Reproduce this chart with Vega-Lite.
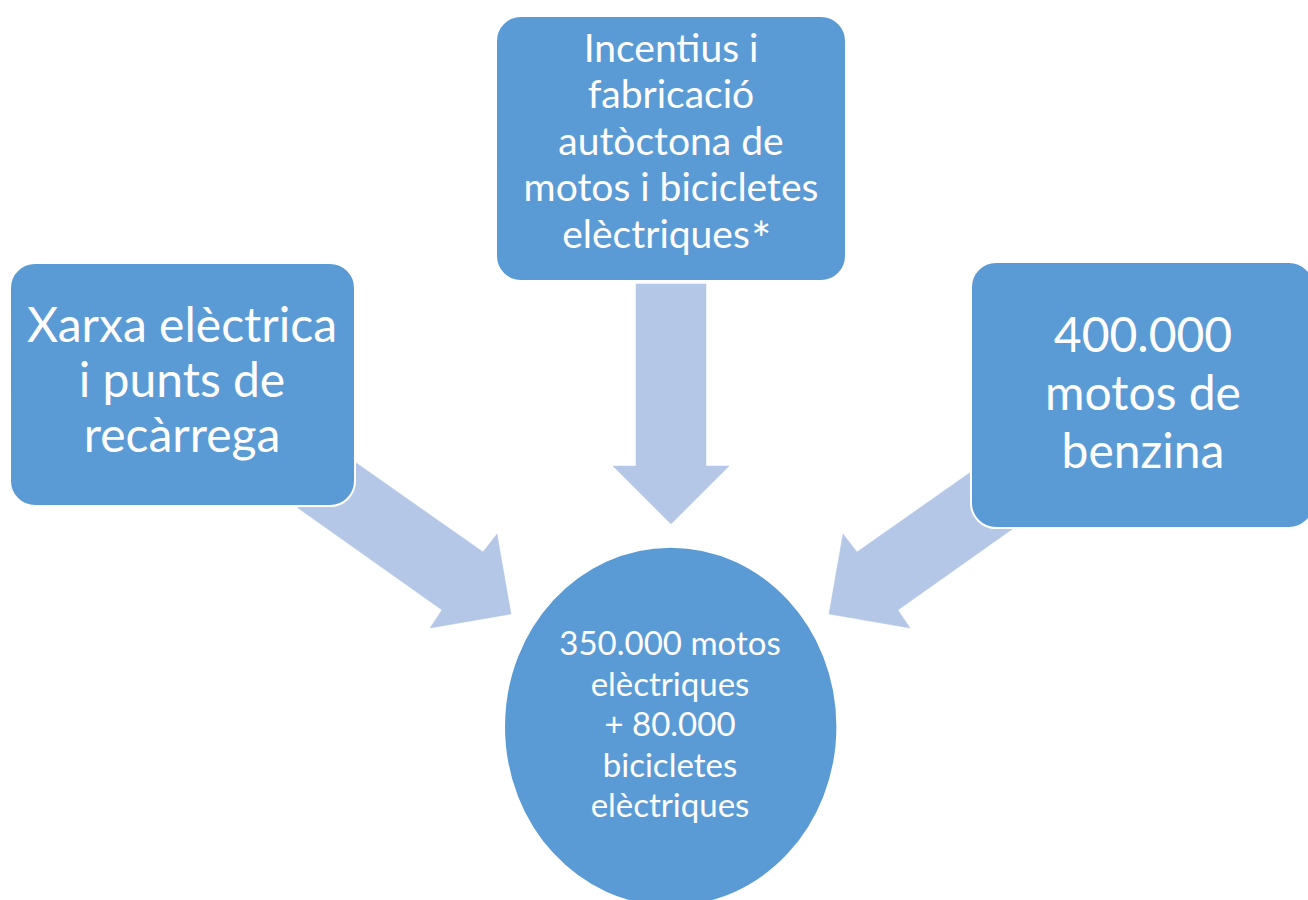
{
  "$schema": "https://vega.github.io/schema/vega-lite/v6.json",
  "width": 1308,
  "height": 900,
  "autosize": "none",
  "padding": 0,
  "background": "white",
  "config": {"view": {"stroke": null}},
  "datasets": {
    "arrows": [
      {"arrow": "top", "i": 1, "x": 636, "y": 284},
      {"arrow": "top", "i": 2, "x": 706, "y": 284},
      {"arrow": "top", "i": 3, "x": 706, "y": 466},
      {"arrow": "top", "i": 4, "x": 729, "y": 466},
      {"arrow": "top", "i": 5, "x": 671, "y": 524},
      {"arrow": "top", "i": 6, "x": 613, "y": 466},
      {"arrow": "top", "i": 7, "x": 636, "y": 466},
      {"arrow": "left", "i": 1, "x": 338.5, "y": 450.5},
      {"arrow": "left", "i": 2, "x": 483, "y": 552},
      {"arrow": "left", "i": 3, "x": 497, "y": 534},
      {"arrow": "left", "i": 4, "x": 511, "y": 614},
      {"arrow": "left", "i": 5, "x": 430, "y": 628},
      {"arrow": "left", "i": 6, "x": 442, "y": 610},
      {"arrow": "left", "i": 7, "x": 298, "y": 508},
      {"arrow": "right", "i": 1, "x": 1001.5, "y": 450.5},
      {"arrow": "right", "i": 2, "x": 857, "y": 552},
      {"arrow": "right", "i": 3, "x": 843, "y": 534},
      {"arrow": "right", "i": 4, "x": 829, "y": 614},
      {"arrow": "right", "i": 5, "x": 910, "y": 628},
      {"arrow": "right", "i": 6, "x": 898, "y": 610},
      {"arrow": "right", "i": 7, "x": 1042, "y": 508}
    ],
    "boxes": [
      {"box": "top", "x": 496, "x2": 846, "y": 16, "y2": 281},
      {"box": "left", "x": 10, "x2": 355, "y": 263, "y2": 506},
      {"box": "right", "x": 971, "x2": 1314, "y": 262, "y2": 528}
    ],
    "circle": [{"node": "result", "x": 670.7, "y": 726.7}],
    "labelTop": [
      {"label": "Incentius i\nfabricació\nautòctona de\nmotos i bicicletes", "x": 671, "y": 61.7},
      {"label": "elèctriques", "x": 656, "y": 248}
    ],
    "asterisk": [{"label": "*", "x": 751, "y": 257}],
    "labelLeft": [{"label": "Xarxa elèctrica\ni punts de\nrecàrrega", "x": 182, "y": 342}],
    "labelRight": [{"label": "400.000\nmotos de\nbenzina", "x": 1143, "y": 351.7}],
    "labelCircle": [{"label": "350.000 motos\nelèctriques\n+ 80.000\nbicicletes\nelèctriques", "x": 670, "y": 655}]
  },
  "encoding": {
    "x": {"field": "x", "type": "quantitative", "scale": {"domain": [0, 1308], "nice": false, "zero": false}, "axis": null},
    "y": {"field": "y", "type": "quantitative", "scale": {"domain": [0, 900], "nice": false, "zero": false, "reverse": true}, "axis": null}
  },
  "layer": [
    {
      "data": {"name": "arrows"},
      "mark": {"type": "line", "fill": "#B4C7E7", "stroke": "#B4C7E7", "strokeWidth": 0.5, "interpolate": "linear-closed"},
      "encoding": {
        "order": {"field": "i", "type": "quantitative"},
        "detail": {"field": "arrow", "type": "nominal"}
      }
    },
    {
      "data": {"name": "boxes"},
      "mark": {"type": "rect", "fill": "#5B9BD5", "stroke": "white", "strokeWidth": 2, "cornerRadius": 25},
      "encoding": {
        "x2": {"field": "x2"},
        "y2": {"field": "y2"}
      }
    },
    {
      "data": {"name": "circle"},
      "mark": {"type": "point", "filled": true, "fill": "#5B9BD5", "fillOpacity": 1, "opacity": 1, "stroke": "white", "strokeWidth": 2, "shape": "M -0.926 0 A 0.926 1 0 1 0 0.926 0 A 0.926 1 0 1 0 -0.926 0 Z", "size": 129600}
    },
    {
      "data": {"name": "labelTop"},
      "mark": {"type": "text", "font": "Lato", "fontSize": 39, "lineHeight": 46.6, "lineBreak": "\n", "align": "center", "baseline": "alphabetic", "color": "white"},
      "encoding": {"text": {"field": "label"}}
    },
    {
      "data": {"name": "asterisk"},
      "mark": {"type": "text", "font": "Lato", "fontSize": 48, "align": "left", "baseline": "alphabetic", "color": "white"},
      "encoding": {"text": {"field": "label"}}
    },
    {
      "data": {"name": "labelLeft"},
      "mark": {"type": "text", "font": "Lato", "fontSize": 48, "lineHeight": 55, "lineBreak": "\n", "align": "center", "baseline": "alphabetic", "color": "white"},
      "encoding": {"text": {"field": "label"}}
    },
    {
      "data": {"name": "labelRight"},
      "mark": {"type": "text", "font": "Lato", "fontSize": 48, "lineHeight": 58.3, "lineBreak": "\n", "align": "center", "baseline": "alphabetic", "color": "white"},
      "encoding": {"text": {"field": "label"}}
    },
    {
      "data": {"name": "labelCircle"},
      "mark": {"type": "text", "font": "Lato", "fontSize": 33, "lineHeight": 40.5, "lineBreak": "\n", "align": "center", "baseline": "alphabetic", "color": "white"},
      "encoding": {"text": {"field": "label"}}
    }
  ]
}
